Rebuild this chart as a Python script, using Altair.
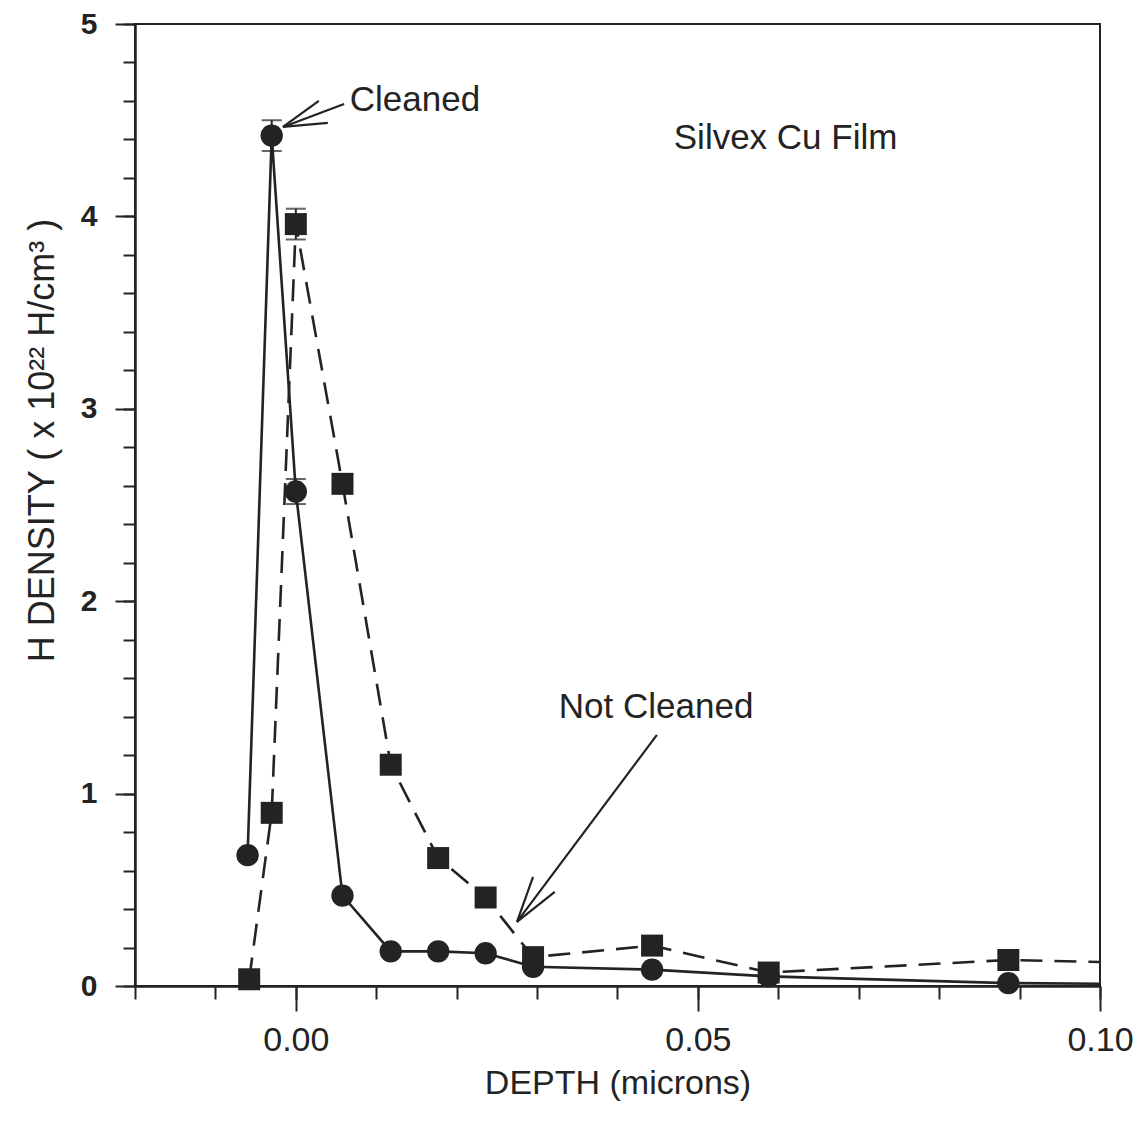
import altair as alt
import pandas as pd

# ---- data ----
depth_cleaned = [-0.006, -0.003, 0.000, 0.0058, 0.0118, 0.0177, 0.0236, 0.0295, 0.0443, 0.0588, 0.0886]
dens_cleaned = [0.68, 4.42, 2.57, 0.47, 0.18, 0.18, 0.17, 0.10, 0.085, 0.05, 0.015]
err_cleaned = [0, 0.08, 0.065, 0, 0, 0, 0, 0, 0, 0, 0]

depth_notcl = [-0.0058, -0.003, 0.000, 0.0058, 0.0118, 0.0177, 0.0236, 0.0295, 0.0443, 0.0588, 0.0886]
dens_notcl = [0.035, 0.90, 3.96, 2.61, 1.15, 0.665, 0.46, 0.15, 0.21, 0.07, 0.135]
err_notcl = [0, 0, 0.08, 0, 0, 0, 0, 0, 0, 0, 0]

# where each curve meets the right frame (line continues beyond plot)
edge_x = 0.10
edge_cleaned = 0.012
edge_notcl = 0.125

x_major = [0.0, 0.05, 0.10]
x_minor = [round(-0.02 + 0.01 * i, 2) for i in range(13)]
y_major = [0, 1, 2, 3, 4, 5]
y_minor = [round(0.2 * i, 1) for i in range(26)]

labels_text = ["Cleaned", "Not Cleaned", "Silvex Cu Film"]
labels_x = [0.0067, 0.0448, 0.0609]
labels_y = [4.605, 1.45, 4.41]
labels_align = ["left", "center", "center"]

# arrow segments (data coordinates): start -> end
arrow_x = [0.0060, 0.00286, 0.00398, 0.0449, 0.0295, 0.0322]
arrow_y = [4.584, 4.60, 4.486, 1.305, 0.567, 0.489]
arrow_x2 = [-0.0016, -0.0016, -0.0016, 0.0275, 0.0275, 0.0275]
arrow_y2 = [4.465, 4.465, 4.465, 0.333, 0.333, 0.333]

FONT = "Liberation Sans, Arial, sans-serif"
INK = "#232323"
LW = 2.6

# ---- tables ----
line_cl = pd.DataFrame({"x": depth_cleaned + [edge_x], "y": dens_cleaned + [edge_cleaned]})
line_nc = pd.DataFrame({"x": depth_notcl + [edge_x], "y": dens_notcl + [edge_notcl]})
pts_cl = pd.DataFrame({"x": depth_cleaned, "y": dens_cleaned, "e": err_cleaned})
pts_nc = pd.DataFrame({"x": depth_notcl, "y": dens_notcl, "e": err_notcl})
err = pd.concat([pts_cl, pts_nc])
err = err[err["e"] > 0].copy()
err["lo"] = err["y"] - err["e"]
err["hi"] = err["y"] + err["e"]
lab = pd.DataFrame({"x": labels_x, "y": labels_y, "t": labels_text, "a": labels_align})
arr = pd.DataFrame({"x": arrow_x, "y": arrow_y, "x2": arrow_x2, "y2": arrow_y2})

xscale = alt.Scale(domain=[-0.02, 0.10], nice=False, zero=False)
yscale = alt.Scale(domain=[0, 5], nice=False)

x_axis_major = alt.Axis(orient="bottom", values=x_major, format=".2f", tickSize=25, tickWidth=2,
                        labelFontSize=34, labelFont=FONT, labelColor=INK, labelPadding=12,
                        title="DEPTH (microns)", titleFontSize=34, titleFont=FONT,
                        titleFontWeight="normal", titleColor=INK, titleY=97,
                        titleBaseline="middle", grid=False, domainColor=INK,
                        domainWidth=2, tickColor=INK, labelFlush=False)
x_axis_minor = alt.Axis(orient="bottom", values=x_minor, labels=False, tickSize=13, tickWidth=2,
                        title=None, grid=False, domainColor=INK, domainWidth=2, tickColor=INK)
y_axis_major = alt.Axis(orient="left", values=y_major, format="d", tickSize=20, tickWidth=2,
                        labelFontSize=30, labelFontWeight="bold", labelFont=FONT,
                        labelColor=INK, labelPadding=18,
                        title="H DENSITY ( x 10²² H/cm³ )", titleFontSize=36,
                        titleFont=FONT, titleFontWeight="normal", titleColor=INK,
                        titleX=-93, titleY=416, titleBaseline="middle", titleAngle=270,
                        grid=False, domainColor=INK, domainWidth=2, tickColor=INK,
                        labelFlush=False)
y_axis_minor = alt.Axis(orient="left", values=y_minor, labels=False, tickSize=12, tickWidth=2,
                        title=None, grid=False, domainColor=INK, domainWidth=2, tickColor=INK)

l_cl = alt.Chart(line_cl).mark_line(color=INK, strokeWidth=LW, clip=True).encode(
    x=alt.X("x:Q", scale=xscale, axis=x_axis_major),
    y=alt.Y("y:Q", scale=yscale, axis=y_axis_major),
    order="x:Q",
)
l_nc = alt.Chart(line_nc).mark_line(color=INK, strokeWidth=LW, strokeDash=[22, 12],
                                    clip=True).encode(
    x=alt.X("x:Q", scale=xscale, axis=x_axis_minor),
    y=alt.Y("y:Q", scale=yscale, axis=y_axis_minor),
    order="x:Q",
)

err_rule = alt.Chart(err).mark_rule(color=INK, strokeWidth=2).encode(
    x=alt.X("x:Q", scale=xscale, axis=None),
    y=alt.Y("lo:Q", scale=yscale, axis=None),
    y2="hi:Q",
)
cap_lo = alt.Chart(err).mark_tick(color=INK, orient="horizontal", size=20, thickness=2).encode(
    x=alt.X("x:Q", scale=xscale, axis=None),
    y=alt.Y("lo:Q", scale=yscale, axis=None),
)
cap_hi = alt.Chart(err).mark_tick(color=INK, orient="horizontal", size=20, thickness=2).encode(
    x=alt.X("x:Q", scale=xscale, axis=None),
    y=alt.Y("hi:Q", scale=yscale, axis=None),
)

p_cl = alt.Chart(pts_cl).mark_point(shape="circle", filled=True, size=500, color=INK,
                                    opacity=1).encode(
    x=alt.X("x:Q", scale=xscale, axis=None),
    y=alt.Y("y:Q", scale=yscale, axis=None),
)
p_nc = alt.Chart(pts_nc).mark_point(shape="square", filled=True, size=484, color=INK,
                                    opacity=1).encode(
    x=alt.X("x:Q", scale=xscale, axis=None),
    y=alt.Y("y:Q", scale=yscale, axis=None),
)

arrows = alt.Chart(arr).mark_rule(color=INK, strokeWidth=2.2).encode(
    x=alt.X("x:Q", scale=xscale, axis=None),
    y=alt.Y("y:Q", scale=yscale, axis=None),
    x2="x2:Q",
    y2="y2:Q",
)

txt_left = alt.Chart(lab[lab["a"] == "left"]).mark_text(
    font=FONT, fontSize=35, color=INK, align="left", baseline="middle").encode(
    x=alt.X("x:Q", scale=xscale, axis=None),
    y=alt.Y("y:Q", scale=yscale, axis=None),
    text="t:N",
)
txt_center = alt.Chart(lab[lab["a"] == "center"]).mark_text(
    font=FONT, fontSize=35, color=INK, align="center", baseline="middle").encode(
    x=alt.X("x:Q", scale=xscale, axis=None),
    y=alt.Y("y:Q", scale=yscale, axis=None),
    text="t:N",
)

chart = alt.layer(
    l_cl, l_nc, err_rule, cap_lo, cap_hi, p_cl, p_nc, arrows, txt_left, txt_center
).resolve_axis(x="independent", y="independent").properties(
    width=965,
    height=962,
    padding={"left": 135, "top": 24, "right": 42, "bottom": 148},
    autosize=alt.AutoSizeParams(type="none"),
    background="white",
).configure_view(stroke=INK, strokeWidth=2)

chart.save("out.html", embed_options={"renderer": "svg", "actions": False})
